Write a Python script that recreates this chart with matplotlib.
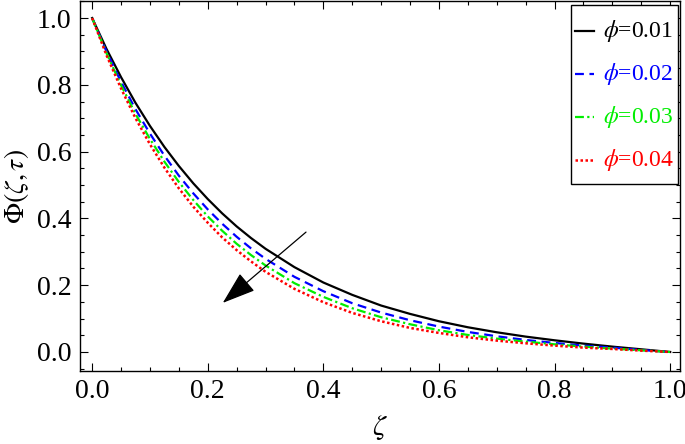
import matplotlib
matplotlib.use("Agg")
import matplotlib.pyplot as plt
import numpy as np
from matplotlib.ticker import MultipleLocator

# values
zeta = [0.000, 0.025, 0.050, 0.075, 0.100, 0.125, 0.150, 0.175, 0.200, 0.225, 0.250, 0.275,
        0.30, 0.35, 0.40, 0.45, 0.50, 0.55, 0.60, 0.65, 0.70, 0.75, 0.80, 0.85, 0.90, 0.95, 1.00]
phi_001 = [1.000, 0.907, 0.823, 0.746, 0.677, 0.614, 0.557, 0.505, 0.458, 0.415, 0.376, 0.341,
           0.309, 0.254, 0.208, 0.171, 0.139, 0.114, 0.092, 0.074, 0.059, 0.046, 0.035, 0.025,
           0.016, 0.008, 0.000]
phi_002 = [1.000, 0.899, 0.809, 0.727, 0.654, 0.588, 0.528, 0.475, 0.427, 0.384, 0.345, 0.310,
           0.279, 0.225, 0.182, 0.146, 0.118, 0.095, 0.076, 0.060, 0.047, 0.036, 0.027, 0.019,
           0.013, 0.006, 0.000]
phi_003 = [1.000, 0.894, 0.799, 0.713, 0.638, 0.570, 0.509, 0.455, 0.406, 0.363, 0.324, 0.290,
           0.259, 0.206, 0.165, 0.131, 0.104, 0.083, 0.065, 0.051, 0.040, 0.031, 0.023, 0.016,
           0.010, 0.005, 0.000]
phi_004 = [1.000, 0.888, 0.789, 0.700, 0.622, 0.552, 0.490, 0.435, 0.387, 0.343, 0.305, 0.271,
           0.240, 0.189, 0.149, 0.117, 0.092, 0.072, 0.057, 0.044, 0.034, 0.026, 0.019, 0.013,
           0.009, 0.004, 0.000]
labels = [r"$\phi$=0.01", r"$\phi$=0.02", r"$\phi$=0.03", r"$\phi$=0.04"]
colors = ["black", "blue", "#00ee00", "red"]

plt.rcParams["font.family"] = ["Liberation Serif", "DejaVu Serif"]
plt.rcParams["mathtext.fontset"] = "stix"

fig = plt.figure(figsize=(6.85, 4.44), dpi=100)
ax = fig.add_axes([0.1168, 0.1644, 0.8759, 0.8333])

ax.plot(zeta, phi_001, color=colors[0], lw=1.6, ls="-", label=labels[0])
ax.plot(zeta, phi_002, color=colors[1], lw=1.6, ls=(0, (4, 2.5)), label=labels[1])
ax.plot(zeta, phi_003, color=colors[2], lw=1.6, ls=(0, (4, 1.5, 1, 1.5)), label=labels[2])
ax.plot(zeta, phi_004, color=colors[3], lw=1.8, ls=(0, (1, 1)), label=labels[3])

# arrow: increasing phi
ax.annotate("", xy=(0.226, 0.147), xytext=(0.37, 0.359),
            arrowprops=dict(arrowstyle="-|>,head_length=2.1,head_width=0.72",
                            color="black", lw=0.9, shrinkA=0, shrinkB=0))

ax.set_xlim(-0.021, 1.017)
ax.set_ylim(-0.057, 1.051)
ax.xaxis.set_major_locator(MultipleLocator(0.2))
ax.xaxis.set_minor_locator(MultipleLocator(0.05))
ax.yaxis.set_major_locator(MultipleLocator(0.2))
ax.yaxis.set_minor_locator(MultipleLocator(0.05))
ax.xaxis.set_major_formatter(plt.FuncFormatter(lambda v, p: f"{v:.1f}"))
ax.yaxis.set_major_formatter(plt.FuncFormatter(lambda v, p: f"{v:.1f}"))
ax.tick_params(which="both", direction="in", top=True, right=True, labelsize=20, width=0.8)
ax.tick_params(which="major", length=6, pad=6)
ax.tick_params(which="minor", length=3)
for s in ax.spines.values():
    s.set_linewidth(1.0)

ax.set_xlabel(r"$\zeta$", fontsize=21, labelpad=6)
ax.set_ylabel(r"$\Phi(\zeta,\tau)$", fontsize=20, labelpad=4)

leg = ax.legend(loc="upper right", bbox_to_anchor=(0.9965, 0.99), fontsize=17,
                frameon=True, fancybox=False, edgecolor="black", framealpha=1,
                handlelength=0.8, handletextpad=0.4, handleheight=2.43,
                labelspacing=0.0, borderpad=0.15, borderaxespad=0)
leg.get_frame().set_linewidth(1.0)
for t, c in zip(leg.get_texts(), colors):
    t.set_color(c)
# bring the legend handles down to the middle of the text
for ln in leg.get_lines():
    ln.set_ydata(np.asarray(ln.get_ydata()) - 6)

fig.savefig("out.png", dpi=100)
